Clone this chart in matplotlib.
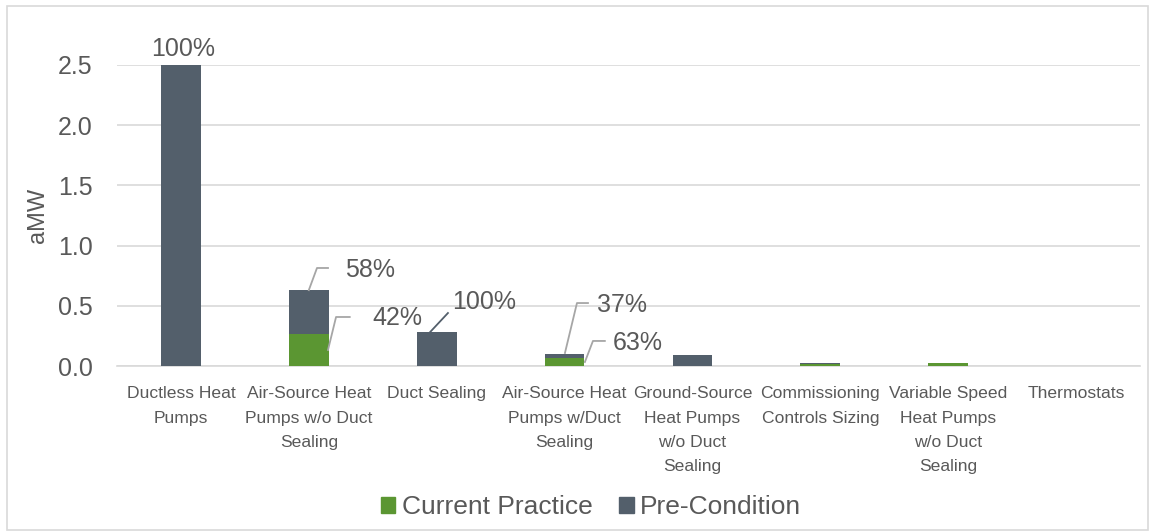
import matplotlib
matplotlib.use("Agg")
import matplotlib.pyplot as plt
from matplotlib.patches import Rectangle, Patch

categories = ["Ductless Heat\nPumps", "Air-Source Heat\nPumps w/o Duct\nSealing", "Duct Sealing",
              "Air-Source Heat\nPumps w/Duct\nSealing", "Ground-Source\nHeat Pumps\nw/o Duct\nSealing",
              "Commissioning\nControls Sizing", "Variable Speed\nHeat Pumps\nw/o Duct\nSealing", "Thermostats"]
current_practice = [0.0, 0.265, 0.0, 0.063, 0.0, 0.015, 0.025, 0.0]
pre_condition = [2.5, 0.365, 0.28, 0.037, 0.09, 0.01, 0.0, 0.0]
yticks = [0.0, 0.5, 1.0, 1.5, 2.0, 2.5]

GREEN = "#5B9632"
DARK = "#535F6B"
TXT = "#595959"
LEAD = "#A6A6A6"

plt.rcParams['font.family'] = ['Liberation Sans', 'DejaVu Sans']

fig = plt.figure(figsize=(11.54, 5.31), dpi=100)
ax = fig.add_axes([117/1154, 1-366/531, (1140-117)/1154, (366-65)/531])

x = list(range(len(categories)))
ax.bar(x, current_practice, width=0.31, color=GREEN, label="Current Practice", zorder=3)
ax.bar(x, pre_condition, width=0.31, bottom=current_practice, color=DARK, label="Pre-Condition", zorder=3)

ax.set_xlim(-0.5, len(categories) - 0.5)
ax.set_ylim(0, 2.5)
ax.set_yticks(yticks)
ax.set_yticklabels([f"{v:.1f}" for v in yticks], fontsize=18, color=TXT)
ax.set_xticks(x)
ax.set_xticklabels(categories, fontsize=12.6, color=TXT, linespacing=1.76, va="top")
ax.tick_params(axis="both", length=0)
ax.tick_params(axis="y", pad=17.5)
ax.tick_params(axis="x", pad=14.7)
ax.grid(axis="y", color="#D9D9D9", linewidth=1.2, zorder=0)
for s in ["top", "right", "left"]:
    ax.spines[s].set_visible(False)
ax.spines["bottom"].set_color("#D9D9D9")
ax.spines["bottom"].set_linewidth(1.2)
ax.set_ylabel("aMW", fontsize=17, color=TXT, labelpad=6)

# data labels
lab_fs = 18
ax.text(0.02, 2.63, "100%", ha="center", va="center", fontsize=lab_fs, color=TXT, clip_on=False)

def leader(pts, color=LEAD):
    xs, ys = zip(*pts)
    ax.plot(xs, ys, color=color, linewidth=1.3, zorder=4, clip_on=False)

leader([(1.0, 0.63), (1.064, 0.814), (1.15, 0.814)])
ax.text(1.283, 0.80, "58%", ha="left", va="center", fontsize=lab_fs, color=TXT)
leader([(1.15, 0.133), (1.213, 0.407), (1.32, 0.407)])
ax.text(1.494, 0.40, "42%", ha="left", va="center", fontsize=lab_fs, color=TXT)
leader([(1.947, 0.28), (2.088, 0.44)], color=DARK)
ax.text(2.119, 0.53, "100%", ha="left", va="center", fontsize=lab_fs, color=TXT)
leader([(3.003, 0.108), (3.097, 0.523), (3.183, 0.523)])
ax.text(3.253, 0.507, "37%", ha="left", va="center", fontsize=lab_fs, color=TXT)
leader([(3.159, 0.033), (3.222, 0.208), (3.315, 0.208)])
ax.text(3.378, 0.19, "63%", ha="left", va="center", fontsize=lab_fs, color=TXT)

handles = [Patch(color=GREEN, label="Current Practice"), Patch(color=DARK, label="Pre-Condition")]
leg = fig.legend(handles=handles, loc="center", bbox_to_anchor=(591/1154, 1-507/531), ncol=2,
                 frameon=False, fontsize=19, handlelength=0.55, handleheight=0.55,
                 handletextpad=0.25, columnspacing=1.0)
for t in leg.get_texts():
    t.set_color(TXT)

fig.patches.append(Rectangle((7/1154, 0.002), (1148-7)/1154, 1-6/531-0.002, transform=fig.transFigure,
                             fill=False, edgecolor="#D9D9D9", linewidth=1.2))

fig.savefig("out.png", dpi=100, facecolor="white")
